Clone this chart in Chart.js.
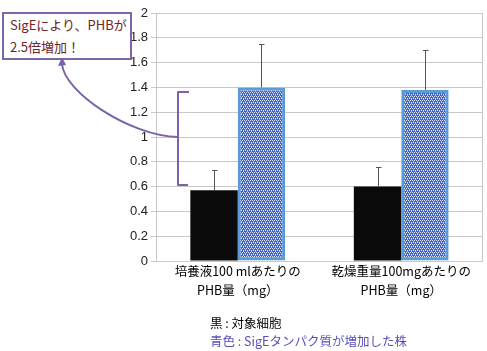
<!DOCTYPE html>
<html><head><meta charset="utf-8">
<script src="https://cdn.jsdelivr.net/npm/chart.js@4.4.0/dist/chart.umd.min.js"></script>
<style>
html,body{margin:0;padding:0;background:#fff;}
#wrap{position:relative;width:487px;height:351px;}
#c{position:absolute;left:0;top:0;}
.t{position:absolute;font-family:"Noto Sans CJK JP","Noto Sans",sans-serif;white-space:nowrap;}
#callout{left:2px;top:12px;width:120px;height:44px;border:2px solid #7e65a8;background:#fff;color:#6b2626;font-size:13px;line-height:22px;padding:0 0 0 6px;box-sizing:content-box;}
#leg1{left:210px;top:313px;font-size:12.5px;color:#000;}
#leg2{left:210px;top:331px;font-size:12.5px;color:#5650b8;}
</style></head>
<body><div id="wrap"><canvas id="c" width="487" height="351"></canvas>
<div class="t" id="callout">SigEにより、PHBが<br>2.5倍増加！</div>
<div class="t" id="leg1">黒 : 対象細胞</div>
<div class="t" id="leg2">青色 : SigEタンパク質が増加した株</div>
</div>
<script>
const categories = [["培養液100 mlあたりの","PHB量（mg）"],["乾燥重量100mgあたりの","PHB量（mg）"]];
const controlValues = [0.57, 0.60];
const controlErrors = [0.16, 0.16];
const sigEValues = [1.40, 1.38];
const sigEErrors = [0.35, 0.32];
const yTicks = [0,0.2,0.4,0.6,0.8,1,1.2,1.4,1.6,1.8,2];

function makePattern(){
  const p=document.createElement('canvas');p.width=4;p.height=4;
  const g=p.getContext('2d');
  g.fillStyle='#3f63c6';g.fillRect(0,0,4,4);
  g.fillStyle='#dfe6f7';
  g.fillRect(0,0,1,1);g.fillRect(2,0,1,1);g.fillRect(1,2,1,1);g.fillRect(3,2,1,1);
  g.fillStyle='#9fb3e6';g.fillRect(1,1,1,1);g.fillRect(3,3,1,1);
  return document.getElementById('c').getContext('2d').createPattern(p,'repeat');
}
const errs=[controlErrors,sigEErrors];
const errorBars={id:'errorBars',afterDatasetsDraw(chart){
  const ctx=chart.ctx,y=chart.scales.y;
  ctx.save();ctx.strokeStyle='#555';ctx.lineWidth=1;
  chart.data.datasets.forEach((ds,i)=>{
    const meta=chart.getDatasetMeta(i);
    meta.data.forEach((bar,j)=>{
      const x=Math.round(bar.x)+0.5, y0=y.getPixelForValue(ds.data[j]), y1=Math.round(y.getPixelForValue(ds.data[j]+errs[i][j]))+0.5;
      ctx.beginPath();ctx.moveTo(x,y0);ctx.lineTo(x,y1);ctx.moveTo(x-2.5,y1);ctx.lineTo(x+3,y1);ctx.stroke();
    });
  });
  ctx.restore();
}};
const frame={id:'frame',beforeDatasetsDraw(chart){
  const a=chart.chartArea,ctx=chart.ctx;
  ctx.save();ctx.strokeStyle='#c8c8c8';ctx.lineWidth=1;
  ctx.beginPath();ctx.moveTo(Math.round(a.right)-0.5,a.top);ctx.lineTo(Math.round(a.right)-0.5,a.bottom);ctx.stroke();
  ctx.restore();
},afterDraw(chart){
  const ctx=chart.ctx;
  ctx.save();ctx.strokeStyle='#7b62ab';ctx.lineWidth=2;ctx.lineJoin='round';
  ctx.beginPath();ctx.moveTo(189,92);ctx.lineTo(178,92);ctx.lineTo(178,185);ctx.lineTo(188,185);ctx.stroke();
  ctx.beginPath();ctx.moveTo(178,137);ctx.bezierCurveTo(130,136,64,92,62,64);ctx.stroke();
  ctx.fillStyle='#7b62ab';ctx.beginPath();ctx.moveTo(62,57);ctx.lineTo(58,66);ctx.lineTo(66,65);ctx.closePath();ctx.fill();
  ctx.restore();
}};
new Chart(document.getElementById('c'),{
  type:'bar',
  data:{labels:categories,datasets:[
    {data:controlValues,backgroundColor:'#0a0a0a',borderWidth:0},
    {data:sigEValues,backgroundColor:makePattern(),borderColor:'#5b9bd5',borderWidth:3,borderSkipped:false}
  ]},
  options:{responsive:false,animation:false,devicePixelRatio:1,
    layout:{padding:{top:13,right:4,left:9,bottom:0}},
    plugins:{legend:{display:false},tooltip:{enabled:false}},
    datasets:{bar:{categoryPercentage:0.58,barPercentage:1}},
    scales:{
      x:{grid:{display:false,drawTicks:false},border:{display:false},
        ticks:{color:'#000',padding:1,font:{family:'"Noto Sans CJK JP"',size:12.5,lineHeight:1.5},maxRotation:0,autoSkip:false},
        afterFit(s){s.height=90;}},
      y:{min:0,max:2,afterBuildTicks(s){s.ticks=yTicks.map(v=>({value:v}));},
        grid:{color:'#c8c8c8',tickLength:5,lineWidth:1},border:{color:'#c8c8c8'},
        ticks:{color:'#222',padding:3,font:{family:'"Liberation Sans",Arial',size:13},callback:v=>String(v)},
        afterFit(s){s.width=147;}}
    }
  },
  plugins:[frame,errorBars]
});
</script></body></html>
